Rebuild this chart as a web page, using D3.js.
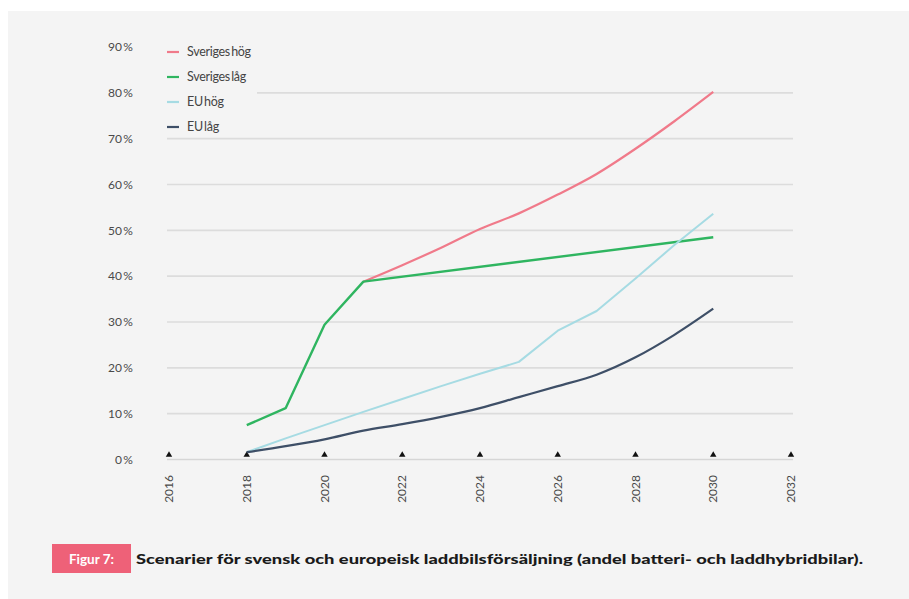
<!DOCTYPE html>
<html>
<head>
<meta charset="utf-8">
<script src="https://cdn.jsdelivr.net/npm/d3@7"></script>
<style>
  html, body { margin: 0; padding: 0; background: #fff; }
  svg { display: block; }
</style>
</head>
<body>
<svg id="chart" width="909" height="599"></svg>
<script>
// data
const yTicks = [0, 10, 20, 30, 40, 50, 60, 70, 80, 90];
const xTicks = [2016, 2018, 2020, 2022, 2024, 2026, 2028, 2030, 2032];

const yearsFull = [2018, 2019, 2020, 2021, 2022, 2023, 2024, 2025, 2026, 2027, 2028, 2029, 2030];
const yearsSeHog = [2021, 2022, 2023, 2024, 2025, 2026, 2027, 2028, 2029, 2030];
const yearsSeLag = [2018, 2019, 2020, 2021, 2030];

const sverigesHog = [38.8, 42.4, 46.2, 50.3, 53.7, 57.8, 62.3, 67.8, 73.8, 80.2];
const sverigesLag = [7.5, 11.2, 29.4, 38.8, 48.5];
const euHog = [1.6, 4.6, 7.5, 10.4, 13.2, 16.0, 18.7, 21.3, 28.1, 32.4, 39.5, 46.8, 53.6];
const euLag = [1.6, 2.9, 4.4, 6.3, 7.7, 9.3, 11.2, 13.6, 16.0, 18.5, 22.3, 27.2, 32.9];

const seriesNames = ['Sveriges\u2009hög', 'Sveriges\u2009låg', 'EU\u2009hög', 'EU\u2009låg'];
const seriesColors = ['#f07a8a', '#2fb560', '#a6dbe3', '#3e4f67'];

const caption = 'Scenarier för svensk och europeisk laddbilsförsäljning (andel batteri- och laddhybridbilar).';

const svg = d3.select('#chart');
const font = 'Lato, "Open Sans", sans-serif';

// panel background
svg.append('rect').attr('x', 8).attr('y', 11).attr('width', 901).attr('height', 588).attr('fill', '#f4f4f4');

const x = d3.scaleLinear().domain([2016, 2032]).range([169, 791]);
const y = d3.scaleLinear().domain([0, 90]).range([459.5, 47]);

// gridlines (none at 90 %)
svg.append('g').selectAll('line').data(yTicks.filter(d => d > 0 && d < 90)).enter().append('line')
  .attr('x1', x(2016) - 2).attr('x2', x(2032) + 2)
  .attr('y1', d => y(d)).attr('y2', d => y(d))
  .attr('stroke', '#dcdcdc').attr('stroke-width', 1.6);

// baseline
svg.append('line')
  .attr('x1', x(2016) - 2).attr('x2', x(2032) + 2)
  .attr('y1', y(0)).attr('y2', y(0))
  .attr('stroke', '#d6d6d6').attr('stroke-width', 1.6);

// y labels
svg.append('g').selectAll('text').data(yTicks).enter().append('text')
  .attr('x', 133).attr('y', d => y(d)).attr('dy', '0.35em')
  .attr('text-anchor', 'end')
  .attr('fill', '#4a4a4a').style('font-family', font).style('font-size', '12px')
  .text(d => d + '\u2009%');

// x tick markers (small triangles)
const tri = d3.symbol().type(d3.symbolTriangle).size(18);
svg.append('g').selectAll('path').data(xTicks).enter().append('path')
  .attr('d', tri)
  .attr('transform', d => `translate(${x(d)},${y(0) - 4.5})`)
  .attr('fill', '#111');

// x labels, rotated
svg.append('g').selectAll('text').data(xTicks).enter().append('text')
  .attr('transform', d => `translate(${x(d)},475) rotate(-90)`)
  .attr('text-anchor', 'end').attr('dy', '0.35em')
  .attr('fill', '#4a4a4a').style('font-family', font).style('font-size', '12px')
  .text(d => d);

// lines
const lineFor = (xs, curve) => d3.line()
  .x((d, i) => x(xs[i])).y(d => y(d)).curve(curve);

const series = [
  { vals: sverigesHog, xs: yearsSeHog, curve: d3.curveMonotoneX, w: 2.2 },
  { vals: sverigesLag, xs: yearsSeLag, curve: d3.curveLinear, w: 2.4 },
  { vals: euHog, xs: yearsFull, curve: d3.curveLinear, w: 2 },
  { vals: euLag, xs: yearsFull, curve: d3.curveMonotoneX, w: 2.2 },
];

series.forEach((s, i) => {
  svg.append('path')
    .attr('d', lineFor(s.xs, s.curve)(s.vals))
    .attr('fill', 'none')
    .attr('stroke', seriesColors[i])
    .attr('stroke-width', s.w)
    .attr('stroke-linejoin', 'round');
});

// legend (covers the start of the 80 % gridline)
const lg = svg.append('g').attr('transform', 'translate(167,52)');
lg.append('rect').attr('x', -2).attr('y', -10).attr('width', 92).attr('height', 90).attr('fill', '#f4f4f4');
seriesNames.forEach((n, i) => {
  const row = lg.append('g').attr('transform', `translate(0,${i * 25})`);
  row.append('line').attr('x1', 0).attr('x2', 12).attr('y1', 0).attr('y2', 0)
    .attr('stroke', seriesColors[i]).attr('stroke-width', 2.2);
  row.append('text').attr('x', 20).attr('y', 0).attr('dy', '0.35em')
    .attr('fill', '#444').style('font-family', font).style('font-size', '12.5px')
    .style('letter-spacing', '-0.3px')
    .text(n);
});

// caption
svg.append('rect').attr('x', 52).attr('y', 544).attr('width', 79).attr('height', 29)
  .attr('fill', '#ee6178');
svg.append('text').attr('x', 91.5).attr('y', 559).attr('dy', '0.35em')
  .attr('text-anchor', 'middle').attr('fill', '#fff')
  .style('font-family', font).style('font-size', '13.5px').style('font-weight', 700)
  .text('Figur 7:');
svg.append('text').attr('x', 136).attr('y', 559).attr('dy', '0.35em')
  .attr('fill', '#1a1a1a')
  .style('font-family', font).style('font-size', '13.5px').style('font-weight', 900)
  .attr('textLength', 727).attr('lengthAdjust', 'spacingAndGlyphs')
  .text(caption);
</script>
</body>
</html>
